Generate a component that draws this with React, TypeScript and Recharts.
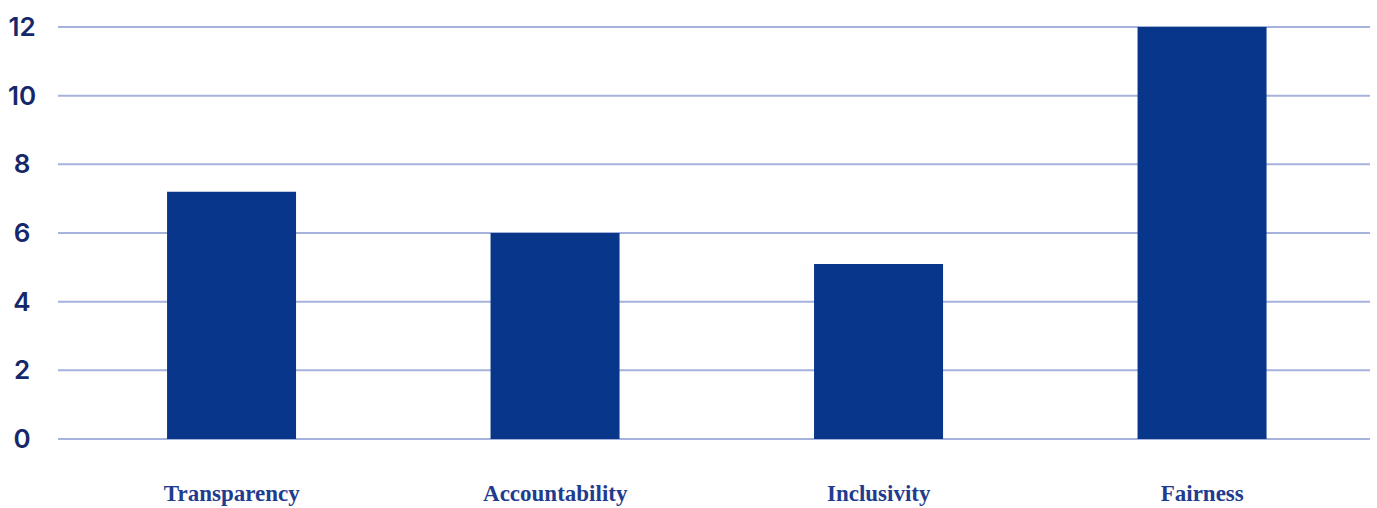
import { BarChart, Bar, XAxis, YAxis, CartesianGrid } from "recharts"

const categories = ["Transparency", "Accountability", "Inclusivity", "Fairness"]
const scores = [7.2, 6, 5.1, 12]
const yTicks = [0, 2, 4, 6, 8, 10, 12]

const data = categories.map((name, i) => ({ name, value: scores[i] }))

const YTick = (props: any) => {
  const { y, payload } = props
  return (
    <text x={22} y={y} dy={9} textAnchor="middle" fill="#14286b" fontFamily="Inter, sans-serif" fontWeight={600} fontSize={26}>
      {payload.value}
    </text>
  )
}

const XTick = (props: any) => {
  const { x, payload } = props
  return (
    <text x={x} y={501} textAnchor="middle" fill="#1f3c8e" fontFamily="'Liberation Serif', serif" fontWeight={700} fontSize={23}>
      {payload.value}
    </text>
  )
}

export default function App() {
  return (
    <div style={{ position: "absolute", left: 0, top: 0, background: "#fff" }}>
      <BarChart width={1377} height={508} data={data} margin={{ top: 27, right: 7, bottom: 0, left: 0 }} barCategoryGap="30%">
        <CartesianGrid vertical={false} stroke="#a6b1dc" strokeWidth={2} />
        <XAxis dataKey="name" height={69} axisLine={false} tickLine={false} padding={{ left: 12, right: 6 }} tick={<XTick />} interval={0} />
        <YAxis width={58} domain={[0, 12]} ticks={yTicks} axisLine={false} tickLine={false} tick={<YTick />} />
        <Bar dataKey="value" fill="#08368b" isAnimationActive={false} />
      </BarChart>
    </div>
  )
}
